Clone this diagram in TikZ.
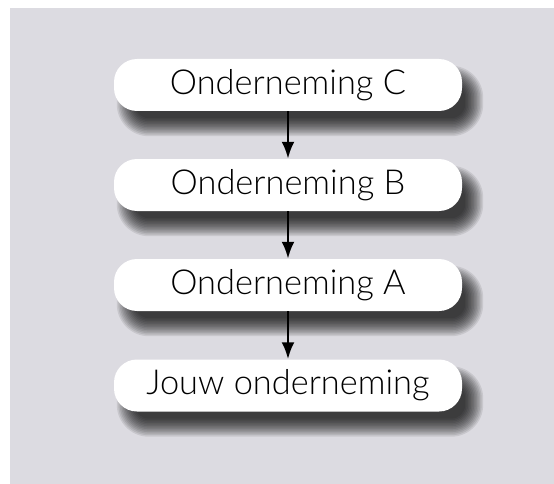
\documentclass[tikz,border=0pt]{standalone}
\usepackage{fontspec}
\setmainfont{Lato Light}
\usepackage{tikz}
\usetikzlibrary{arrows.meta,backgrounds}
\definecolor{bggray}{RGB}{220,219,225}

\tikzset{
  ondbox/.style={shape=rectangle, fill=white, rounded corners=23pt,
    minimum width=348pt, minimum height=52pt, inner sep=0pt,
    font=\fontsize{34.4}{41}\selectfont},
  ondshadow/.style={fill=black, fill opacity=0.09},
  ondarrow/.style={-{Latex[length=17pt,width=13pt]}, line width=2.8pt}
}

\begin{document}
\begin{tikzpicture}[x=1pt, y=-1pt]
				% Nodes and arrows:
				\node[ondbox](ondC) at (288, 85){Onderneming C};
				\node[ondbox](ondB) at (288, 185){Onderneming B};
				\node[ondbox](ondA) at (288, 285){Onderneming A};
				\node[ondbox](jouw) at (288, 385.5){Jouw onderneming};
				\draw[ondarrow] (ondC) -- (ondB);
				\draw[ondarrow] (ondB) -- (ondA);
				\draw[ondarrow] (ondA) -- (jouw);
				% Background and shadows:
				\begin{pgfonlayer}{background}
					\useasboundingbox (0, 0) rectangle (554, 484);
					\fill[white] (0, 0) rectangle (554, 484);
					\fill[bggray] (10, 8) rectangle (554, 484);
					\foreach \n in {ondC, ondB, ondA, jouw}
						\foreach \s in {-9,-7.5,...,9}
							\fill[ondshadow, rounded corners={(23+\s)*1pt}]
								([xshift={(12-\s)*1pt}, yshift={-(16+\s)*1pt}]\n.south west) rectangle
								([xshift={(12+\s)*1pt}, yshift={-(16-\s)*1pt}]\n.north east);
				\end{pgfonlayer}
			\end{tikzpicture}
\end{document}
